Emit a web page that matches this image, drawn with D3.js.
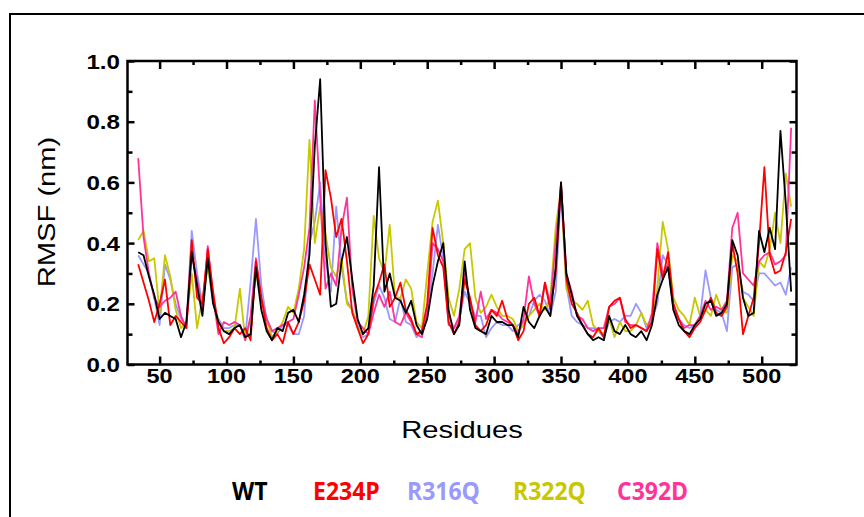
<!DOCTYPE html>
<html lang="en">
<head>
<meta charset="UTF-8">
<title>RMSF per residue</title>
<style>
  body { margin: 0; background: #fff; }
  svg { display: block; }
  .axis path.domain { display: none; }
  .axis .tick line { stroke: #000; stroke-width: 2.5; }
  .lbl { font-family: "Liberation Sans", Arial, sans-serif; fill: #000; }
  .leg { font-family: "Open Sans", sans-serif; font-weight: 700; }
</style>
</head>
<body>
<script src="https://d3js.org/d3.v7.min.js"></script>
<script>
  // residue numbers, every 4th residue
  var residues = d3.range(34, 523, 4);

  var wt = [
    .37,.36,.29,.23,.15,.17,.16,.15,.09,.14,
    .37,.26,.16,.35,.20,.14,.11,.10,.12,.13,
    .09,.10,.32,.18,.11,.08,.12,.11,.17,.18,
    .14,.23,.36,.72,.94,.40,.19,.20,.34,.42,
    .28,.15,.10,.12,.26,.65,.24,.30,.22,.21,
    .17,.21,.13,.10,.15,.26,.34,.40,.18,.10,
    .13,.34,.18,.12,.11,.10,.16,.14,.14,.13,
    .13,.09,.19,.14,.12,.16,.19,.16,.32,.60,
    .30,.23,.16,.13,.10,.08,.09,.08,.16,.11,
    .10,.13,.10,.09,.11,.08,.13,.23,.28,.32,
    .18,.13,.11,.10,.13,.15,.20,.21,.16,.17,
    .20,.41,.36,.22,.16,.17,.44,.37,.45,.38,
    .77,.53,.24
  ];
  var e234p = [
    .33,.27,.21,.14,.20,.28,.13,.16,.14,.12,
    .41,.22,.20,.38,.24,.12,.07,.09,.12,.10,
    .12,.08,.34,.22,.12,.08,.10,.07,.14,.10,
    .14,.21,.33,.28,.23,.64,.55,.42,.48,.34,
    .17,.12,.07,.10,.22,.27,.33,.19,.22,.27,
    .18,.15,.10,.11,.20,.45,.36,.32,.14,.10,
    .14,.28,.22,.13,.11,.13,.18,.16,.21,.15,
    .13,.08,.11,.20,.22,.16,.27,.18,.30,.60,
    .28,.20,.17,.13,.10,.09,.12,.09,.19,.21,
    .22,.15,.12,.13,.12,.11,.14,.38,.28,.37,
    .20,.15,.11,.09,.12,.14,.18,.22,.17,.16,
    .19,.40,.30,.10,.16,.22,.40,.65,.36,.30,
    .31,.37,.48
  ];
  var r316q = [
    .36,.33,.30,.22,.13,.33,.28,.20,.15,.13,
    .44,.30,.20,.33,.20,.15,.12,.12,.13,.13,
    .09,.27,.48,.26,.15,.11,.10,.13,.13,.10,
    .10,.16,.40,.47,.60,.34,.24,.52,.32,.21,
    .18,.13,.09,.10,.20,.26,.22,.15,.14,.22,
    .14,.13,.09,.11,.17,.30,.46,.35,.16,.12,
    .15,.24,.20,.16,.16,.09,.12,.14,.13,.13,
    .11,.13,.14,.16,.21,.23,.21,.16,.24,.58,
    .26,.16,.14,.13,.12,.12,.11,.09,.14,.15,
    .14,.16,.16,.20,.17,.12,.15,.20,.36,.33,
    .20,.15,.13,.12,.13,.16,.31,.22,.18,.17,
    .11,.32,.33,.24,.23,.21,.30,.30,.28,.26,
    .27,.23,.32
  ];
  var r322q = [
    .41,.44,.34,.35,.17,.36,.29,.18,.12,.14,
    .30,.12,.22,.32,.22,.14,.11,.11,.12,.25,
    .08,.15,.30,.22,.15,.09,.11,.14,.19,.17,
    .25,.38,.74,.40,.52,.43,.32,.29,.35,.20,
    .18,.12,.10,.16,.49,.35,.30,.46,.22,.22,
    .28,.25,.14,.12,.30,.47,.54,.40,.22,.16,
    .25,.38,.40,.22,.17,.19,.23,.19,.16,.16,
    .15,.11,.13,.16,.18,.20,.18,.22,.45,.58,
    .25,.21,.20,.18,.21,.13,.11,.10,.15,.09,
    .14,.11,.11,.13,.17,.13,.15,.25,.47,.38,
    .22,.18,.16,.13,.22,.16,.18,.16,.23,.18,
    .17,.36,.34,.22,.19,.16,.34,.32,.38,.50,
    .40,.63,.52
  ];
  var c392d = [
    .68,.42,.30,.22,.19,.21,.22,.24,.16,.12,
    .36,.28,.18,.39,.22,.10,.14,.13,.14,.13,
    .08,.16,.35,.22,.15,.11,.12,.13,.14,.15,
    .23,.32,.45,.87,.55,.25,.30,.26,.45,.55,
    .25,.14,.12,.10,.17,.23,.19,.24,.14,.13,
    .17,.14,.10,.09,.17,.40,.38,.34,.13,.12,
    .16,.30,.21,.14,.24,.15,.18,.17,.15,.14,
    .13,.10,.15,.29,.20,.16,.27,.20,.40,.59,
    .30,.24,.16,.15,.12,.11,.12,.12,.19,.20,
    .22,.14,.13,.13,.12,.11,.17,.40,.30,.33,
    .18,.15,.12,.13,.13,.16,.21,.18,.19,.18,
    .21,.45,.50,.30,.28,.26,.34,.36,.37,.33,
    .34,.36,.78
  ];

  var seriesNames  = ['WT', 'E234P', 'R316Q', 'R322Q', 'C392D'];
  var seriesColors = ['#000000', '#ff0000', '#9999ff', '#c8c800', '#ff3399'];
  var seriesValues = [wt, e234p, r316q, r322q, c392d];
  var drawOrder    = [2, 3, 4, 1, 0];

  var xMajor = [50, 100, 150, 200, 250, 300, 350, 400, 450, 500];
  var xMinor = [75, 125, 175, 225, 275, 325, 375, 425, 475];
  var yMajor = [0, 0.2, 0.4, 0.6, 0.8, 1.0];
  var yMinor = [0.1, 0.3, 0.5, 0.7, 0.9];
  var yTickLabels = ['0.0', '0.2', '0.4', '0.6', '0.8', '1.0'];

  var svg = d3.select('body').append('svg')
      .attr('width', 864)
      .attr('height', 517);

  // page frame
  svg.append('rect')
      .attr('x', 10).attr('y', 14)
      .attr('width', 900).attr('height', 600)
      .attr('fill', 'none')
      .attr('stroke', '#000')
      .attr('stroke-width', 2);

  var x = d3.scaleLinear().domain([26, 526]).range([127.5, 796.5]);
  var y = d3.scaleLinear().domain([0, 1]).range([364.5, 61]);

  var line = d3.line()
      .x(function(d) { return x(d[0]); })
      .y(function(d) { return y(d[1]); });

  svg.append('g').selectAll('path')
      .data(drawOrder)
    .enter().append('path')
      .attr('fill', 'none')
      .attr('stroke', function(i) { return seriesColors[i]; })
      .attr('stroke-width', 1.8)
      .attr('stroke-linejoin', 'round')
      .attr('d', function(i) {
        return line(residues.map(function(r, k) { return [r, seriesValues[i][k]]; }));
      });

  // inward ticks on all four sides
  function addAxis(axis, tx, ty) {
    svg.append('g')
        .attr('class', 'axis')
        .attr('transform', 'translate(' + tx + ',' + ty + ')')
        .call(axis.tickFormat('').tickSizeOuter(0));
  }
  addAxis(d3.axisBottom(x).tickValues(xMajor).tickSizeInner(-8), 0, 364.5);
  addAxis(d3.axisBottom(x).tickValues(xMinor).tickSizeInner(-4), 0, 364.5);
  addAxis(d3.axisTop(x).tickValues(xMajor).tickSizeInner(-8), 0, 61);
  addAxis(d3.axisTop(x).tickValues(xMinor).tickSizeInner(-4), 0, 61);
  addAxis(d3.axisLeft(y).tickValues(yMajor).tickSizeInner(-7), 127.5, 0);
  addAxis(d3.axisLeft(y).tickValues(yMinor).tickSizeInner(-5), 127.5, 0);
  addAxis(d3.axisRight(y).tickValues(yMajor).tickSizeInner(-7), 796.5, 0);
  addAxis(d3.axisRight(y).tickValues(yMinor).tickSizeInner(-5), 796.5, 0);

  svg.append('rect')
      .attr('x', 127.5).attr('y', 61)
      .attr('width', 669).attr('height', 303.5)
      .attr('fill', 'none')
      .attr('stroke', '#000')
      .attr('stroke-width', 2.5);

  // tick labels
  svg.append('g').selectAll('text')
      .data(xMajor)
    .enter().append('text')
      .attr('class', 'lbl')
      .attr('text-anchor', 'middle')
      .attr('font-size', 21)
      .attr('font-weight', 700)
      .attr('transform', function(d) { return 'translate(' + x(d) + ',383) scale(1.12,1)'; })
      .text(function(d) { return d; });

  svg.append('g').selectAll('text')
      .data(yMajor)
    .enter().append('text')
      .attr('class', 'lbl')
      .attr('text-anchor', 'end')
      .attr('font-size', 21)
      .attr('font-weight', 700)
      .attr('transform', function(d) { return 'translate(120,' + (y(d) + 7.5) + ') scale(1.15,1)'; })
      .text(function(d, i) { return yTickLabels[i]; });

  // axis titles
  svg.append('text')
      .attr('class', 'lbl')
      .attr('text-anchor', 'middle')
      .attr('font-size', 24.5)
      .attr('transform', 'translate(462,438) scale(1.19,1)')
      .text('Residues');

  svg.append('text')
      .attr('class', 'lbl')
      .attr('text-anchor', 'middle')
      .attr('font-size', 24.5)
      .attr('transform', 'translate(55,212) rotate(-90) scale(1.19,1)')
      .text('RMSF (nm)');

  // legend
  var legendX = [232, 313, 407, 513, 617];
  svg.append('g').selectAll('text')
      .data(seriesNames)
    .enter().append('text')
      .attr('class', 'leg')
      .attr('font-size', 25)
      .attr('fill', function(d, i) { return seriesColors[i]; })
      .attr('transform', function(d, i) { return 'translate(' + legendX[i] + ',500) scale(0.92,1)'; })
      .text(function(d) { return d; });
</script>
</body>
</html>
